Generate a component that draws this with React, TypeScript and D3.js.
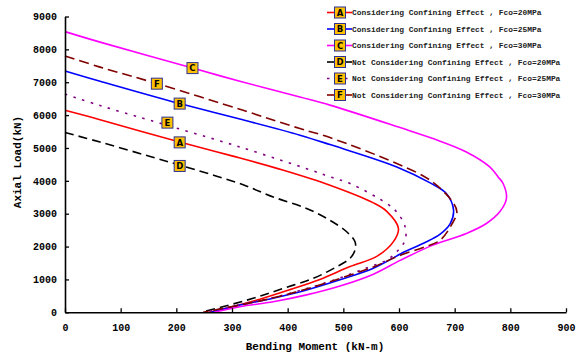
import React, { useEffect, useRef } from 'react'
import * as d3 from 'd3'

// interaction curves: bending moment (kN-m) vs axial load (kN)
const momentA = [0, 63, 206, 300, 391, 476, 554, 578, 599, 590, 560, 512, 458, 404, 350, 300, 258]
const loadA = [6150, 5860, 5180, 4760, 4330, 3867, 3330, 3070, 2550, 2150, 1700, 1390, 1000, 690, 400, 170, 0]

const momentB = [0, 63, 206, 314, 422, 476, 596, 656, 685, 698, 692, 674, 645, 610, 554, 494, 434, 374, 314, 262]
const loadB = [7340, 7030, 6350, 5880, 5390, 5103, 4423, 3937, 3615, 3108, 2700, 2380, 2110, 1840, 1340, 990, 680, 430, 220, 0]

const momentC = [0, 63, 229, 314, 422, 476, 602, 661, 721, 763, 778, 787, 793, 781, 757, 721, 661, 602, 554, 494, 434, 374, 314, 268]
const loadC = [8540, 8220, 7430, 7030, 6550, 6304, 5620, 5286, 4878, 4423, 4120, 3918, 3463, 3057, 2703, 2400, 2044, 1580, 1160, 800, 530, 322, 170, 0]

const momentD = [0, 63, 153, 230, 320, 374, 434, 476, 506, 521, 521, 512, 488, 446, 392, 338, 245]
const loadD = [5470, 5180, 4740, 4360, 3880, 3510, 3160, 2800, 2450, 2145, 1893, 1640, 1385, 1033, 729, 425, 0]

const momentE = [0, 63, 153, 314, 446, 476, 512, 578, 596, 611, 611, 596, 578, 540, 490, 430, 370, 310, 250]
const loadE = [6640, 6290, 5840, 5030, 4300, 4119, 3918, 3311, 3050, 2600, 2196, 1841, 1589, 1340, 1020, 700, 430, 210, 0]

const momentF = [0, 63, 165, 320, 422, 476, 596, 656, 694, 704, 694, 674, 647, 600, 554, 494, 434, 374, 314, 248]
const loadF = [7800, 7460, 6960, 6145, 5590, 5316, 4526, 4019, 3411, 3060, 2652, 2196, 1993, 1720, 1380, 1030, 710, 440, 220, 0]

const seriesKeys = ['A', 'B', 'C', 'D', 'E', 'F']
const seriesNames = [
  'Considering Confining Effect , Fco=20MPa',
  'Considering Confining Effect , Fco=25MPa',
  'Considering Confining Effect , Fco=30MPa',
  'Not Considering Confining Effect , Fco=20MPa',
  'Not Considering Confining Effect , Fco=25MPa',
  'Not Considering Confining Effect , Fco=30MPa',
]
const seriesColors = ['#ff0000', '#0000ff', '#ff00ff', '#000000', '#800080', '#800000']
const seriesDash = ['none', 'none', 'none', '9,5', '2.5,6.5', '10,5']

// where the letter tags sit on each curve
const tagMoment = [206, 206, 229, 206, 184, 165]
const tagLoad = [5170, 6350, 7430, 4453, 5771, 6956]

const xTicks = [0, 100, 200, 300, 400, 500, 600, 700, 800, 900]
const yTicks = [0, 1000, 2000, 3000, 4000, 5000, 6000, 7000, 8000, 9000]

const mono = '"Liberation Mono", "Courier New", monospace'

const App = () => {
  const ref = useRef<SVGSVGElement>(null)

  useEffect(() => {
    const svg = d3.select(ref.current)
    svg.selectAll('*').remove()

    const x = d3.scaleLinear().domain([0, 900]).range([65, 566])
    const y = d3.scaleLinear().domain([0, 9000]).range([312.3, 16.5])

    const moments = [momentA, momentB, momentC, momentD, momentE, momentF]
    const loads = [loadA, loadB, loadC, loadD, loadE, loadF]

    const line = d3.line<[number, number]>()
      .x(d => x(d[0]))
      .y(d => y(d[1]))
      .curve(d3.curveCatmullRom.alpha(0.5))

    const curves = svg.append('g')
    seriesKeys.forEach((k, i) => {
      const pts = moments[i].map((m, j) => [m, loads[i][j]] as [number, number])
      curves.append('path')
        .attr('d', line(pts))
        .attr('fill', 'none')
        .attr('stroke', seriesColors[i])
        .attr('stroke-width', 1.6)
        .attr('stroke-dasharray', seriesDash[i])
    })

    // axes
    const xAxis = svg.append('g')
      .attr('transform', `translate(0,${y(0)})`)
      .call(d3.axisBottom(x).tickValues(xTicks).tickFormat(d3.format('d')).tickSizeInner(-4).tickSizeOuter(0).tickPadding(12))
    const yAxis = svg.append('g')
      .attr('transform', `translate(${x(0)},0)`)
      .call(d3.axisLeft(y).tickValues(yTicks).tickFormat(d3.format('d')).tickSizeInner(-4).tickSizeOuter(0).tickPadding(8))

    ;[xAxis, yAxis].forEach(a => {
      a.select('.domain').attr('stroke', '#000').attr('stroke-width', 1.6)
      a.selectAll('.tick line').attr('stroke', '#000').attr('stroke-width', 1.3)
      a.selectAll('.tick text')
        .attr('fill', '#000')
        .style('font-family', mono)
        .style('font-weight', 'bold')
        .style('font-size', '10px')
    })

    svg.append('text')
      .attr('x', 315)
      .attr('y', 350)
      .attr('text-anchor', 'middle')
      .style('font-family', mono)
      .style('font-weight', 'bold')
      .style('font-size', '11px')
      .text('Bending Moment (kN-m)')

    svg.append('text')
      .attr('transform', 'translate(21,162) rotate(-90)')
      .attr('text-anchor', 'middle')
      .style('font-family', mono)
      .style('font-weight', 'bold')
      .style('font-size', '11px')
      .text('Axial Load(kN)')

    const tag = (g, cx: number, cy: number, label: string) => {
      g.append('rect')
        .attr('x', cx - 5.5)
        .attr('y', cy - 5.5)
        .attr('width', 11)
        .attr('height', 11)
        .attr('fill', '#ffc000')
        .attr('stroke', '#2e3192')
        .attr('stroke-width', 1)
      g.append('text')
        .attr('x', cx)
        .attr('y', cy + 3.2)
        .attr('text-anchor', 'middle')
        .style('font-family', '"DejaVu Sans", sans-serif')
        .style('font-weight', 'bold')
        .style('font-size', '8.5px')
        .text(label)
    }

    const tags = svg.append('g')
    seriesKeys.forEach((k, i) => tag(tags, x(tagMoment[i]), y(tagLoad[i]), k))

    // legend
    const rowY = d3.scalePoint<string>().domain(seriesKeys).range([12.5, 95])
    const legend = svg.append('g')
    seriesKeys.forEach((k, i) => {
      const cy = rowY(k)
      legend.append('line')
        .attr('x1', 327).attr('x2', 352)
        .attr('y1', cy).attr('y2', cy)
        .attr('stroke', seriesColors[i])
        .attr('stroke-width', 1.6)
        .attr('stroke-dasharray', i === 4 ? '2.5,6.5' : 'none')
      tag(legend, 340, cy, k)
      legend.append('text')
        .attr('x', 352)
        .attr('y', cy + 2.8)
        .style('font-family', mono)
        .style('font-weight', 'bold')
        .style('font-size', '7.9px')
        .attr('fill', '#222')
        .text(seriesNames[i])
    })
  }, [])

  return (
    <svg ref={ref} width={580} height={358}
      style={{ position: 'absolute', left: 0, top: 0, background: '#fff' }} />
  )
}

export default App
